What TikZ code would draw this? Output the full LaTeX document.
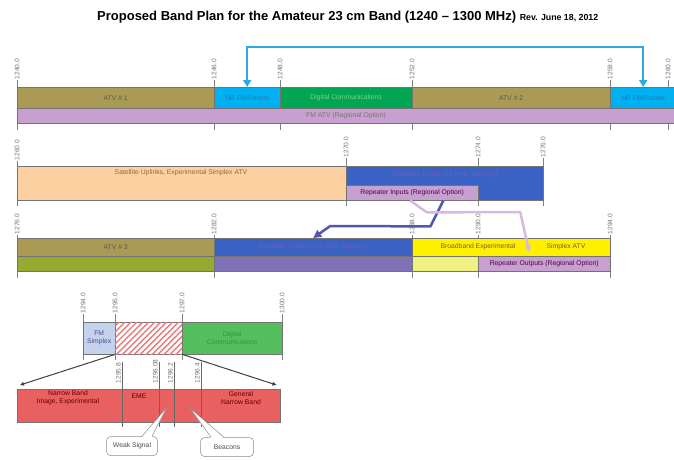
\documentclass[tikz,border=0pt]{standalone}
\usepackage{fontspec}
\setmainfont{Liberation Sans}
\usetikzlibrary{arrows.meta,patterns.meta,calc}
\definecolor{atv}{RGB}{170,154,84}
\definecolor{nbblue}{RGB}{0,176,240}
\definecolor{diggreen}{RGB}{0,166,81}
\definecolor{fmpink}{RGB}{200,160,208}
\definecolor{peach}{RGB}{252,208,160}
\definecolor{rblue}{RGB}{58,98,196}
\definecolor{olgreen}{RGB}{150,170,50}
\definecolor{rpurple}{RGB}{128,112,184}
\definecolor{ybright}{RGB}{255,240,0}
\definecolor{ylight}{RGB}{240,240,130}
\definecolor{fmsblue}{RGB}{196,210,238}
\definecolor{dggreen}{RGB}{85,190,95}
\definecolor{nbred}{RGB}{232,96,96}
\definecolor{arrblue}{RGB}{45,170,225}
\definecolor{connpurple}{RGB}{85,88,170}
\definecolor{connpink}{RGB}{216,184,224}
\definecolor{bluetxt}{RGB}{110,95,185}
\definecolor{nbtxt}{RGB}{40,120,180}
\definecolor{digtxt}{RGB}{120,215,140}
\begin{document}
\begin{tikzpicture}[x=1pt,y=-1pt,
  band/.style={draw=black!55, line width=0.4pt, inner sep=0pt, anchor=north west,
    font=\fontsize{6.8}{7.8}\selectfont, align=center},
  ticklbl/.style={rotate=90, anchor=west, inner sep=0.5pt,
    font=\fontsize{6.6}{7}\selectfont, text=black!55},
  tick/.style={draw=black!50, line width=0.4pt},
  txt/.style={inner sep=0pt, font=\fontsize{6.8}{7.8}\selectfont, align=center},
  callbox/.style={draw=black!45, line width=0.5pt, fill=white, rounded corners=4pt,
    inner sep=0pt, font=\fontsize{6.8}{7.8}\selectfont, text=black!70},
  zoomarrow/.style={draw=black!75, line width=1pt, -{Triangle[length=4pt,width=3.5pt]}},
  bigarrow/.style={draw=arrblue, line width=2pt, {Triangle[length=7pt,width=8pt]}-{Triangle[length=7pt,width=8pt]}}]
\useasboundingbox (0,0) rectangle (674,459);
\fill[white] (0,0) rectangle (674,459);

% title
\node[anchor=west, inner sep=0pt] (title) at (97,17)
  {\fontsize{13}{15}\selectfont\bfseries Proposed Band Plan for the Amateur 23 cm Band (1240 -- 1300 MHz)\
   \fontsize{8.8}{10}\selectfont Rev. June 18, 2012};

% ---------- row 1 ----------
\foreach \x/\l in {17/1240.0, 214/1246.0, 280/1248.0, 412/1252.0, 610/1258.0, 668/1260.0}{
  \draw[tick] (\x,80) -- (\x,130);
  \node[ticklbl] at (\x,80) {\l};
}
\node[band, fill=atv, minimum width=197pt, minimum height=21pt, text=black!65] (atv1) at (17,87) {ATV \# 1};
\node[band, fill=nbblue, minimum width=66pt, minimum height=21pt, text=nbtxt] (nb1) at (214,87) {NB FM/Packet};
\node[band, fill=diggreen, minimum width=132pt, minimum height=21pt, text=digtxt] (dig1) at (280,87) {Digital Communications};
\node[band, fill=atv, minimum width=198pt, minimum height=21pt, text=black!65] (atv2) at (412,87) {ATV \# 2};
\node[band, fill=nbblue, minimum width=66pt, minimum height=21pt, text=nbtxt] (nb2) at (610,87) {NB FM/Packet};
\node[band, fill=fmpink, minimum width=660pt, minimum height=15pt, text=black!55] (fmatv) at (17,108) {};
\node[txt, text=black!55] (fmatvt) at (346,115.5) {FM ATV (Regional Option)};
\coordinate (arrtop) at (445,47);
\draw[bigarrow] (nb1.north) |- (arrtop) -| (nb2.north);

% ---------- row 2 ----------
\foreach \x/\l/\yb in {17/1260.0/161, 346/1270.0/158, 478/1274.0/158, 543/1276.0/158}{
  \draw[tick] (\x,\yb) -- (\x,206);
  \node[ticklbl] at (\x,\yb) {\l};
}
\node[band, fill=peach, minimum width=329pt, minimum height=34pt] (sat) at (17,166) {};
\node[txt, text=brown!80!black] (satt) at (181,173) {Satellite Uplinks, Experimental Simplex ATV};
\node[band, fill=rblue, minimum width=197pt, minimum height=34pt] (rin) at (346,166) {};
\node[txt, text=bluetxt] (rint) at (445,175) {Repeater Inputs (12 MHz Spacing)};
\node[band, fill=fmpink, minimum width=132pt, minimum height=15pt, text=violet!60!black] (rinreg) at (346,185) {Repeater Inputs (Regional Option)};

% ---------- row 3 ----------
\foreach \x/\l in {17/1276.0, 214/1282.0, 412/1288.0, 478/1290.0, 610/1294.0}{
  \draw[tick] (\x,235) -- (\x,278);
  \node[ticklbl] at (\x,235) {\l};
}
\node[band, fill=atv, minimum width=197pt, minimum height=18pt, text=black!65] (atv3) at (17,238) {ATV \# 3};
\node[band, fill=olgreen, minimum width=197pt, minimum height=15pt] (atv3b) at (17,256) {};
\node[band, fill=rblue, minimum width=198pt, minimum height=18pt, text=bluetxt] (rout) at (214,238) {Repeater Outputs (12 MHz Spacing)};
\node[band, fill=rpurple, minimum width=198pt, minimum height=15pt] (routb) at (214,256) {};
\node[band, fill=ybright, minimum width=198pt, minimum height=18pt] (bb) at (412,238) {};
\node[txt, text=brown!70!black] (bbt) at (478,247) {Broadband Experimental};
\node[txt, text=brown!70!black] (sxt) at (566,247) {Simplex ATV};
\node[band, fill=ylight, minimum width=66pt, minimum height=15pt] (bbb) at (412,256) {};
\node[band, fill=fmpink, minimum width=132pt, minimum height=15pt, text=violet!60!black] (routreg) at (478,256) {Repeater Outputs (Regional Option)};

% connectors row 2 -> row 3
\draw[connpurple, line width=2.5pt, line join=round, -{Triangle[length=8pt,width=8pt]}]
  ($(rinreg.south east)+(-35,0)$) -- ($(rinreg.south east)+(-48,26)$) -- ($(rout.north)+(17,-12)$) -- (rout.north);
\draw[connpink, line width=2.5pt, line join=round, -{Triangle[length=6pt,width=6pt]}]
  ($(rinreg.south west)+(64,0)$) -- ($(rinreg.south west)+(81,12)$) -- ($(routreg.north)+(-24,-44)$) -- ($(routreg.north)+(-15,-4)$);

% ---------- bottom detail ----------
\foreach \x/\l in {83/1294.0, 115/1295.0, 182/1297.0, 282/1300.0}{
  \draw[tick] (\x,314) -- (\x,360);
  \node[ticklbl] at (\x,314) {\l};
}
\node[band, fill=fmsblue, minimum width=32pt, minimum height=32pt, text=blue!40!black!70] (fms) at (83,322) {FM\\Simplex};
\node[band, fill=white, minimum width=67pt, minimum height=32pt,
  postaction={pattern={Lines[angle=45,distance=4.2pt,line width=1.4pt]}, pattern color=nbred!85}] (hatch) at (115,322) {};
\node[band, fill=dggreen, minimum width=100pt, minimum height=32pt, text=green!50!black!80] (dig2) at (182,322) {Digital\\Communications};

\node[band, fill=nbred, minimum width=263pt, minimum height=33pt] (nbr) at (17,389) {};
\foreach \x/\l in {122/1295.8, 159/1296.08, 174/1296.2, 201/1296.4}{
  \draw[tick, draw=black!60] (\x,362) -- (\x,427);
  \node[ticklbl, anchor=south west] at (\x-0.5,384) {\l};
}
\node[txt, text=red!40!black] (nbt) at (68,398) {Narrow Band\\Image, Experimental};
\node[txt, text=red!40!black] (emet) at (139,396) {EME};
\node[txt, text=red!40!black] (gent) at (241,398) {General\\Narrow Band};

\draw[zoomarrow] (hatch.south west) -- ($(nbr.north west)+(3,-4)$);
\draw[zoomarrow] (hatch.south east) -- ($(nbr.north east)+(-4,-4)$);

% callouts
\coordinate (wstip) at (167,407);
\coordinate (bctip) at (190,408);
\node[callbox, minimum width=51pt, minimum height=19pt] (ws) at (132,446) {Weak Signal};
\node[callbox, minimum width=53pt, minimum height=19pt] (bc) at (227,447) {Beacons};
\fill[white] ($(ws.north)+(10,1)$) -- (wstip) -- ($(ws.north)+(20,1)$) -- cycle;
\draw[black!45, line width=0.5pt, line join=round] ($(ws.north)+(10,0)$) -- (wstip) -- ($(ws.north)+(20,0)$);
\fill[white] ($(bc.north)+(-16,1)$) -- (bctip) -- ($(bc.north)+(-3,1)$) -- cycle;
\draw[black!45, line width=0.5pt, line join=round] ($(bc.north)+(-16,0)$) -- (bctip) -- ($(bc.north)+(-3,0)$);
\end{tikzpicture}
\end{document}
